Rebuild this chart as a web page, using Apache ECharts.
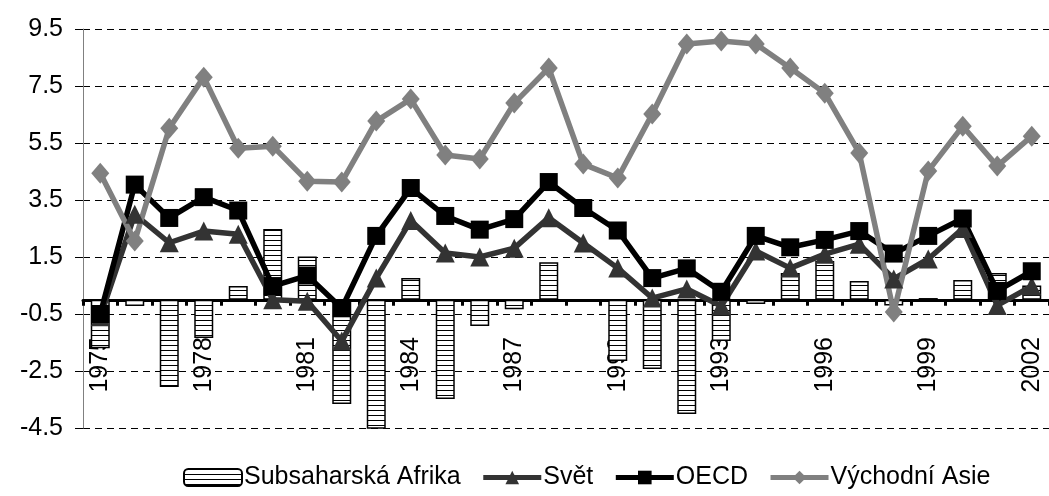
<!DOCTYPE html>
<html>
<head>
<meta charset="utf-8">
<script src="https://cdn.jsdelivr.net/npm/echarts@6/dist/echarts.min.js"></script>
<style>html,body{margin:0;padding:0;background:#fff}#c{width:1049px;height:496px}</style>
</head>
<body>
<div id="c"></div>
<script>
const years = ['1975','1976','1977','1978','1979','1980','1981','1982','1983','1984','1985','1986','1987','1988','1989','1990','1991','1992','1993','1994','1995','1996','1997','1998','1999','2000','2001','2002'];
const afrika = [-1.7, -0.22, -3.06, -1.34, 0.48, 2.48, 1.52, -3.66, -4.6, 0.76, -3.48, -0.92, -0.33, 1.32, 0.0, -2.15, -2.43, -4.01, -1.45, -0.15, 0.94, 1.36, 0.66, -0.2, 0.06, 0.69, 0.94, 0.5];
const svet = [-0.6, 3.0, 2.0, 2.41, 2.3, 0.0, -0.05, -1.45, 0.76, 2.78, 1.64, 1.5, 1.81, 2.88, 1.99, 1.11, 0.06, 0.38, -0.22, 1.71, 1.11, 1.6, 1.95, 0.73, 1.43, 2.5, -0.2, 0.48];
const oecd = [-0.5, 4.04, 2.87, 3.6, 3.13, 0.48, 0.85, -0.3, 2.24, 3.92, 2.94, 2.46, 2.83, 4.13, 3.22, 2.43, 0.76, 1.1, 0.28, 2.24, 1.84, 2.1, 2.41, 1.62, 2.24, 2.85, 0.31, 1.0];
const asie = [4.44, 2.06, 6.02, 7.81, 5.32, 5.39, 4.16, 4.13, 6.27, 7.04, 5.08, 4.94, 6.9, 8.13, 4.76, 4.27, 6.52, 8.97, 9.08, 8.97, 8.13, 7.25, 5.15, -0.43, 4.52, 6.09, 4.69, 5.74];
const seriesNames = ['Subsaharská Afrika', 'Svět', 'OECD', 'Východní Asie'];

const pat = document.createElement('canvas');
pat.width = 8; pat.height = 5;
const pc = pat.getContext('2d');
pc.fillStyle = '#fff'; pc.fillRect(0, 0, 8, 5);
pc.fillStyle = '#000'; pc.fillRect(0, 0, 8, 1);

const FONT = 'Liberation Sans';
const chart = echarts.init(document.getElementById('c'), null, {renderer: 'canvas'});
chart.setOption({
  animation: false,
  backgroundColor: '#fff',
  grid: {left: 83, right: 0, top: 29, bottom: 68, containLabel: false},
  legend: {
    bottom: 1, left: 178,
    itemWidth: 58, itemHeight: 17, itemGap: 20,
    textStyle: {fontFamily: FONT, fontSize: 25, color: '#000', padding: [0, 0, 0, -3]},
    data: [
      {name: seriesNames[0]},
      {name: seriesNames[1], lineStyle: {width: 5}},
      {name: seriesNames[2], lineStyle: {width: 5}},
      {name: seriesNames[3], lineStyle: {width: 5}}
    ]
  },
  xAxis: {
    type: 'category', data: years, boundaryGap: true,
    axisLine: {onZero: true, lineStyle: {color: '#000', width: 3}},
    axisTick: {show: true, interval: 0, length: 6, lineStyle: {color: '#000', width: 3}},
    axisLabel: {interval: 2, rotate: 90, margin: -91, fontFamily: FONT, fontSize: 25, color: '#000'},
    splitLine: {show: false}
  },
  yAxis: {
    type: 'value', min: -4.5, max: 9.5, interval: 2,
    axisLine: {show: true, lineStyle: {color: '#808080', width: 1}},
    axisTick: {show: true, length: 8, lineStyle: {color: '#000', width: 1}},
    axisLabel: {margin: 20, fontFamily: FONT, fontSize: 25, color: '#000', formatter: v => v.toFixed(1)},
    splitLine: {show: true, lineStyle: {color: '#000', width: 1, type: [7, 5]}}
  },
  series: [
    {name: seriesNames[0], type: 'bar', data: afrika, barWidth: 19,
     itemStyle: {color: {image: pat, repeat: 'repeat'}, borderColor: '#000', borderWidth: 1.5}},
    {name: seriesNames[1], type: 'line', data: svet, symbol: 'triangle', symbolSize: 19,
     lineStyle: {color: '#333333', width: 5.5}, itemStyle: {color: '#333333'}},
    {name: seriesNames[2], type: 'line', data: oecd, symbol: 'rect', symbolSize: 18,
     lineStyle: {color: '#000', width: 5.5}, itemStyle: {color: '#000'}},
    {name: seriesNames[3], type: 'line', data: asie, symbol: 'diamond', symbolSize: [18, 21],
     lineStyle: {color: '#808080', width: 5.5}, itemStyle: {color: '#808080'}}
  ]
});
</script>
</body>
</html>
